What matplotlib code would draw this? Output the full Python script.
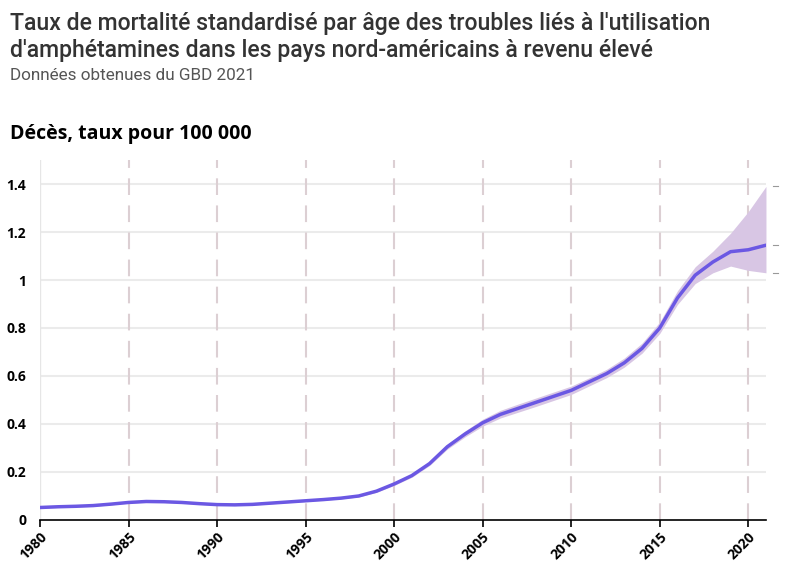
import numpy as np
import matplotlib
matplotlib.use("Agg")
import matplotlib.pyplot as plt
import matplotlib.transforms as mtransforms

years = list(range(1980, 2022))
mean = [0.052, 0.055, 0.057, 0.060, 0.066, 0.073, 0.077, 0.076, 0.073, 0.068,
        0.064, 0.063, 0.065, 0.070, 0.075, 0.080, 0.085, 0.091, 0.100, 0.120,
        0.150, 0.185, 0.235, 0.305, 0.358, 0.405, 0.440, 0.465, 0.490, 0.515,
        0.540, 0.575, 0.610, 0.655, 0.715, 0.800, 0.925, 1.020, 1.075, 1.118,
        1.126, 1.145]
upper = [0.055, 0.058, 0.060, 0.063, 0.069, 0.076, 0.080, 0.079, 0.076, 0.071,
         0.067, 0.066, 0.068, 0.073, 0.078, 0.083, 0.088, 0.094, 0.104, 0.125,
         0.156, 0.192, 0.243, 0.316, 0.371, 0.420, 0.457, 0.483, 0.508, 0.533,
         0.558, 0.592, 0.628, 0.675, 0.737, 0.825, 0.955, 1.055, 1.120, 1.195,
         1.285, 1.390]
lower = [0.049, 0.052, 0.054, 0.057, 0.063, 0.070, 0.074, 0.073, 0.070, 0.065,
         0.061, 0.060, 0.062, 0.067, 0.072, 0.077, 0.082, 0.088, 0.096, 0.115,
         0.144, 0.178, 0.227, 0.295, 0.346, 0.391, 0.425, 0.449, 0.473, 0.498,
         0.523, 0.558, 0.593, 0.637, 0.695, 0.777, 0.898, 0.985, 1.030, 1.058,
         1.040, 1.030]
xticks = [1980, 1985, 1990, 1995, 2000, 2005, 2010, 2015, 2020]
yticks = [0, 0.2, 0.4, 0.6, 0.8, 1.0, 1.2, 1.4]
ylabels = ["0", "0.2", "0.4", "0.6", "0.8", "1", "1.2", "1.4"]

bold_font = ["Open Sans", "DejaVu Sans"]

fig = plt.figure(figsize=(7.94, 5.75), dpi=100)
ax = fig.add_axes([0.0504, 0.0957, 0.9143, 0.626])

for y in yticks[1:]:
    ax.axhline(y, color="#ebebeb", lw=1.5, zorder=0)
ax.axvline(1980, color="#e6e6e6", lw=1, zorder=0)
for x in xticks[1:]:
    ax.axvline(x, color="#dccfd3", lw=1.5, ls=(0, (8, 5)), zorder=0)

ax.fill_between(years, lower, upper, color="#d8c6e4", lw=0, zorder=1)
ax.plot(years, mean, color="#6b58e3", lw=2.5, zorder=2,
        solid_capstyle="round", solid_joinstyle="round")

# small marks on the right for the last values
trans = mtransforms.blended_transform_factory(ax.transAxes, ax.transData)
for v in [upper[-1], mean[-1], lower[-1]]:
    ax.plot([1.01, 1.017], [v, v], transform=trans, color="#999999", lw=0.8,
            clip_on=False)

ax.set_xlim(1980, 2021)
ax.set_ylim(0, 1.5)
for s in ["top", "right", "left"]:
    ax.spines[s].set_visible(False)
ax.spines["bottom"].set_color("black")
ax.spines["bottom"].set_linewidth(1.2)

ax.set_xticks(xticks)
ax.set_xticklabels([str(x) for x in xticks], rotation=45, ha="right",
                   rotation_mode="anchor", fontsize=10, fontweight="bold",
                   family=bold_font)
ax.set_yticks(yticks)
ax.set_yticklabels(ylabels, fontsize=10, fontweight="bold", family=bold_font)
ax.tick_params(axis="x", length=5, width=1.2, color="black", pad=2)
ax.tick_params(axis="y", length=0, pad=10)

fig.text(0.012, 1 - 30 / 575,
         "Taux de mortalité standardisé par âge des troubles liés à l'utilisation",
         fontsize=16.6, color="#333333", family="Roboto", fontweight="medium",
         va="baseline")
fig.text(0.012, 1 - 57 / 575,
         "d'amphétamines dans les pays nord-américains à revenu élevé",
         fontsize=16.6, color="#333333", family="Roboto", fontweight="medium",
         va="baseline")
fig.text(0.012, 1 - 80 / 575, "Données obtenues du GBD 2021", fontsize=12.3,
         color="#555555", family="Roboto", va="baseline")
fig.text(0.012, 1 - 139 / 575, "Décès, taux pour 100 000", fontsize=14,
         color="black", family=bold_font, fontweight="bold", va="baseline")

fig.savefig("out.png", dpi=100)
